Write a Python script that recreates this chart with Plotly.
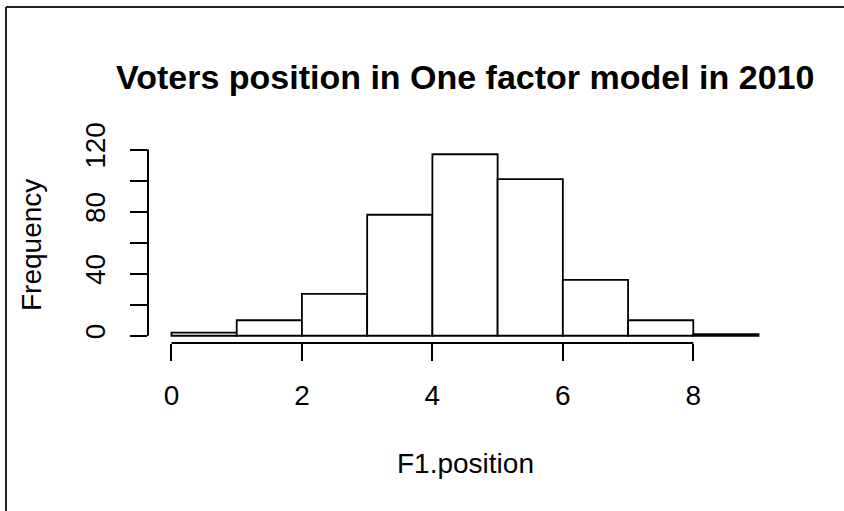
import plotly.graph_objects as go

# histogram of F1.position, bins of width 1
bordes = [0, 1, 2, 3, 4, 5, 6, 7, 8, 9]
frecuencias = [2, 10, 27, 78, 117, 101, 36, 10, 1]

ticks_x = [0, 2, 4, 6, 8]
ticks_y = [0, 20, 40, 60, 80, 100, 120]
etiquetas_y = ["0", "", "40", "", "80", "", "120"]

titulo = "Voters position in One factor model in 2010"
titulo_x = "F1.position"
titulo_y = "Frequency"

FUENTE = "Liberation Sans, Arial, sans-serif"
W, H = 844, 511
L, R, T, B = 148, 62, 147, 168
PW, PH = W - L - R, H - T - B


def px_x(p):
    return (p - L) / PW


def px_y(p):
    return (H - B - p) / PH


# R-style extension of 4% on each side
x_rango = [bordes[0] - 0.04 * (bordes[-1] - bordes[0]), bordes[-1] + 0.04 * (bordes[-1] - bordes[0])]
y_max = max(frecuencias)
y_rango = [-0.04 * y_max, y_max * 1.04]

fig = go.Figure()
fig.add_trace(go.Bar(
    x=bordes[:-1],
    y=frecuencias,
    width=[b - a for a, b in zip(bordes[:-1], bordes[1:])],
    offset=0,
    marker=dict(color="white", line=dict(color="black", width=1.8)),
    hoverinfo="skip",
))

fig.update_layout(
    width=W,
    height=H,
    margin=dict(l=L, r=R, t=T, b=B),
    paper_bgcolor="white",
    plot_bgcolor="white",
    showlegend=False,
    bargap=0,
    font=dict(family=FUENTE, size=28, color="black"),
    xaxis=dict(
        range=x_rango,
        tickvals=ticks_x,
        ticks="outside",
        ticklen=17,
        tickwidth=2,
        tickcolor="black",
        showgrid=False,
        zeroline=False,
        showline=False,
        tickfont=dict(size=28),
        ticklabelstandoff=10,
    ),
    yaxis=dict(
        range=y_rango,
        tickvals=ticks_y,
        ticktext=etiquetas_y,
        tickangle=-90,
        ticks="outside",
        ticklen=17,
        tickwidth=2,
        tickcolor="black",
        showgrid=False,
        zeroline=False,
        showline=False,
        tickfont=dict(size=28),
        ticklabelstandoff=14,
    ),
    annotations=[
        dict(text="<b>" + titulo + "</b>", x=0.5, y=px_y(77), xref="paper", yref="paper",
             showarrow=False, xanchor="center", yanchor="middle", font=dict(size=34)),
        dict(text=titulo_x, x=0.5, y=px_y(463), xref="paper", yref="paper",
             showarrow=False, xanchor="center", yanchor="middle", font=dict(size=28)),
        dict(text=titulo_y, x=px_x(31), y=0.5, xref="paper", yref="paper", textangle=-90,
             showarrow=False, xanchor="center", yanchor="middle", font=dict(size=28)),
    ],
    shapes=[
        # axis lines only across the tick span, as R draws them
        dict(type="line", xref="x", yref="paper", x0=ticks_x[0], x1=ticks_x[-1], y0=0, y1=0,
             line=dict(color="black", width=2)),
        dict(type="line", xref="paper", yref="y", x0=0, x1=0, y0=ticks_y[0], y1=ticks_y[-1],
             line=dict(color="black", width=2)),
        # device border (cut off at right and bottom)
        dict(type="line", xref="paper", yref="paper", x0=px_x(6), x1=px_x(W), y0=px_y(7), y1=px_y(7),
             line=dict(color="#222222", width=2)),
        dict(type="line", xref="paper", yref="paper", x0=px_x(6), x1=px_x(6), y0=px_y(7), y1=px_y(H),
             line=dict(color="#222222", width=2)),
    ],
)

fig.write_html(
    "out.html",
    config={"displayModeBar": False, "staticPlot": True},
    post_script="document.body.style.margin='0';document.body.style.overflow='hidden';",
)
